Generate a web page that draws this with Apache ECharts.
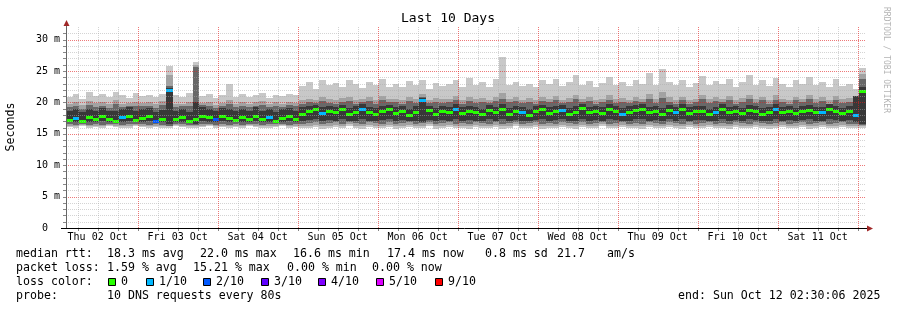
<!DOCTYPE html>
<html>
<head>
<meta charset="utf-8">
<title>Last 10 Days</title>
<script src="https://cdn.jsdelivr.net/npm/echarts@6/dist/echarts.min.js"></script>
<style>
html, body { margin: 0; padding: 0; background: #fff; }
#main { width: 897px; height: 310px; }
</style>
</head>
<body>
<div id="main"></div>
<script>
// x in hours since Thu 02 Oct 00:00, one bin = 2 h
const startHour = 2.5;
const endHour = 242.5;
const stepHours = 2;

const dayLabels = ['Thu 02 Oct', 'Fri 03 Oct', 'Sat 04 Oct', 'Sun 05 Oct', 'Mon 06 Oct',
  'Tue 07 Oct', 'Wed 08 Oct', 'Thu 09 Oct', 'Fri 10 Oct', 'Sat 11 Oct'];
const dayNoon = [12, 36, 60, 84, 108, 132, 156, 180, 204, 228];
const gridHours = [6, 12, 18, 24, 30, 36, 42, 48, 54, 60, 66, 72, 78, 84, 90, 96, 102, 108, 114, 120,
  126, 132, 138, 144, 150, 156, 162, 168, 174, 180, 186, 192, 198, 204, 210, 216, 222, 228, 234, 240];
const gridMs = [1, 2, 3, 4, 5, 6, 7, 8, 9, 10, 11, 12, 13, 14, 15, 16,
  17, 18, 19, 20, 21, 22, 23, 24, 25, 26, 27, 28, 29, 30, 31];

// sorted pings per bin (ms): ping1 lowest ... ping10 highest
const ping1 = [
  16.1, 16.0, 16.2, 15.9, 16.1, 16.0, 16.2, 16.1, 15.9, 16.0, 16.2, 16.1,
  16.0, 16.1, 15.9, 16.0, 16.2, 16.1, 16.0, 15.9, 16.1, 16.2, 16.0, 16.1,
  15.9, 16.1, 16.0, 16.2, 16.1, 15.9, 16.0, 16.1, 16.2, 16.0, 16.1, 16.0,
  15.9, 16.1, 15.8, 16.0, 16.1, 15.9, 16.2, 16.0, 15.8, 16.1, 16.0, 15.9,
  16.1, 15.8, 16.0, 16.1, 15.9, 16.0, 16.2, 15.8, 16.0, 16.1, 15.9, 16.0,
  15.8, 16.1, 16.0, 15.9, 16.1, 15.8, 16.0, 16.2, 15.9, 16.0, 16.1, 15.8,
  16.0, 15.9, 16.1, 16.0, 15.8, 16.1, 15.9, 16.0, 16.2, 15.9, 16.0, 16.1,
  15.9, 16.0, 15.8, 16.1, 16.0, 15.9, 16.1, 16.0, 15.8, 16.1, 15.9, 16.0,
  16.1, 15.9, 16.0, 15.8, 16.1, 16.0, 15.9, 16.1, 16.0, 15.8, 16.0, 16.1,
  15.9, 16.0, 16.1, 15.8, 16.0, 16.1, 15.9, 16.0, 16.1, 15.9, 16.0, 15.9
];
const ping2 = [
  16.3, 16.2, 16.4, 16.2, 16.3, 16.2, 16.4, 16.3, 16.2, 16.3, 16.4, 16.3,
  16.2, 16.3, 16.2, 16.2, 16.4, 16.3, 16.2, 16.2, 16.3, 16.4, 16.2, 16.3,
  16.2, 16.3, 16.2, 16.4, 16.3, 16.2, 16.3, 16.3, 16.4, 16.2, 16.3, 16.3,
  16.3, 16.4, 16.2, 16.3, 16.4, 16.2, 16.5, 16.3, 16.2, 16.4, 16.3, 16.2,
  16.4, 16.2, 16.3, 16.4, 16.2, 16.3, 16.5, 16.2, 16.3, 16.4, 16.2, 16.3,
  16.2, 16.4, 16.3, 16.2, 16.4, 16.2, 16.3, 16.5, 16.2, 16.3, 16.4, 16.2,
  16.3, 16.2, 16.4, 16.3, 16.2, 16.4, 16.2, 16.3, 16.5, 16.2, 16.3, 16.4,
  16.2, 16.3, 16.2, 16.4, 16.3, 16.2, 16.4, 16.3, 16.2, 16.4, 16.2, 16.3,
  16.4, 16.2, 16.3, 16.2, 16.4, 16.3, 16.2, 16.4, 16.3, 16.2, 16.3, 16.4,
  16.2, 16.3, 16.4, 16.2, 16.3, 16.4, 16.2, 16.3, 16.4, 16.2, 16.3, 16.2
];
const ping3 = [
  16.5, 16.4, 16.6, 16.4, 16.5, 16.4, 16.6, 16.5, 16.4, 16.5, 16.6, 16.5,
  16.4, 16.5, 16.4, 16.3, 16.6, 16.5, 16.4, 16.4, 16.5, 16.6, 16.4, 16.5,
  16.4, 16.5, 16.4, 16.6, 16.5, 16.4, 16.5, 16.5, 16.6, 16.4, 16.5, 16.6,
  16.7, 16.8, 16.6, 16.7, 16.8, 16.6, 16.9, 16.7, 16.6, 16.8, 16.7, 16.6,
  16.8, 16.6, 16.7, 16.8, 16.6, 16.7, 16.9, 16.6, 16.7, 16.8, 16.6, 16.7,
  16.6, 16.8, 16.7, 16.6, 16.8, 16.6, 16.7, 16.9, 16.6, 16.7, 16.8, 16.6,
  16.7, 16.6, 16.8, 16.7, 16.6, 16.8, 16.6, 16.7, 16.9, 16.6, 16.7, 16.8,
  16.6, 16.7, 16.6, 16.8, 16.7, 16.6, 16.8, 16.7, 16.6, 16.8, 16.6, 16.7,
  16.8, 16.6, 16.7, 16.6, 16.8, 16.7, 16.6, 16.8, 16.7, 16.6, 16.7, 16.8,
  16.6, 16.7, 16.8, 16.6, 16.7, 16.8, 16.6, 16.7, 16.8, 16.6, 16.6, 16.4
];
const ping4 = [
  16.8, 16.9, 16.7, 16.9, 16.8, 17.0, 16.8, 16.7, 16.9, 17.0, 16.8, 16.9,
  17.0, 16.7, 16.8, 16.5, 16.8, 16.9, 16.7, 16.6, 17.0, 16.9, 16.8, 17.0,
  16.9, 16.8, 16.9, 16.8, 17.0, 16.8, 16.9, 16.7, 16.9, 17.0, 16.8, 17.1,
  17.2, 17.3, 17.1, 17.2, 17.1, 17.3, 17.0, 17.1, 17.4, 17.1, 17.0, 17.2,
  17.3, 17.1, 17.2, 17.0, 17.1, 16.9, 17.2, 17.0, 17.2, 17.1, 17.4, 17.0,
  17.2, 17.1, 17.0, 17.3, 17.1, 17.3, 17.0, 17.2, 17.1, 17.0, 17.2, 17.3,
  17.0, 17.2, 17.3, 17.0, 17.1, 17.4, 17.1, 17.2, 17.0, 17.3, 17.2, 17.0,
  17.1, 17.3, 17.4, 17.1, 17.2, 17.0, 17.3, 17.1, 17.3, 17.0, 17.2, 17.2,
  17.0, 17.1, 17.3, 17.1, 17.2, 17.0, 17.3, 17.2, 17.0, 17.1, 17.3, 17.1,
  17.2, 17.0, 17.2, 17.3, 17.1, 17.1, 17.3, 17.2, 17.0, 17.2, 16.9, 16.6
];
const ping7 = [
  18.6, 18.9, 18.4, 19.0, 18.7, 19.1, 18.6, 18.7, 19.0, 19.3, 18.6, 18.9,
  19.1, 18.5, 18.8, 22.3, 18.7, 19.0, 18.4, 20.0, 19.2, 19.0, 18.7, 19.1,
  18.9, 18.6, 19.0, 18.7, 19.2, 18.7, 19.0, 18.5, 18.9, 19.1, 18.7, 19.3,
  19.5, 19.6, 19.2, 19.5, 19.3, 19.6, 19.1, 19.4, 19.7, 19.3, 19.1, 19.5,
  19.6, 19.2, 19.4, 19.0, 19.4, 20.7, 19.5, 19.1, 19.4, 19.3, 19.7, 19.2,
  19.5, 19.3, 19.0, 19.6, 19.3, 19.7, 19.1, 19.4, 19.3, 19.0, 19.5, 19.6,
  19.2, 19.4, 19.6, 19.1, 19.4, 19.8, 19.3, 19.5, 19.2, 19.7, 19.4, 19.1,
  19.4, 19.6, 19.7, 19.3, 19.4, 19.1, 19.6, 19.3, 19.7, 19.2, 19.4, 19.5,
  19.0, 19.3, 19.7, 19.2, 19.5, 19.1, 19.6, 19.4, 19.1, 19.3, 19.7, 19.2,
  19.5, 19.1, 19.4, 19.6, 19.2, 19.3, 19.7, 19.4, 19.1, 19.5, 21.0, 22.4
];
const ping8 = [
  19.2, 19.5, 19.0, 19.6, 19.3, 19.5, 19.1, 19.7, 19.3, 19.5, 19.5, 19.4,
  19.5, 19.1, 19.6, 22.6, 19.3, 19.4, 19.5, 25.6, 19.6, 19.5, 19.1, 19.5,
  19.7, 19.2, 19.5, 19.3, 19.5, 19.6, 19.3, 19.4, 19.3, 19.6, 19.4, 19.8,
  20.0, 19.9, 20.2, 19.9, 19.8, 20.1, 20.2, 19.8, 20.0, 20.2, 19.8, 20.3,
  20.0, 20.0, 19.8, 20.2, 19.9, 20.8, 19.9, 20.1, 19.9, 20.0, 20.3, 19.8,
  20.2, 19.9, 20.1, 19.9, 20.2, 20.6, 20.0, 20.2, 19.9, 20.1, 19.8, 20.2,
  20.0, 20.3, 19.9, 20.1, 20.5, 20.0, 20.2, 19.8, 20.0, 20.4, 19.9, 20.1,
  19.9, 20.2, 20.0, 20.6, 19.9, 20.7, 20.1, 19.8, 20.3, 19.8, 20.0, 20.5,
  19.9, 20.2, 20.0, 20.4, 19.8, 20.1, 20.5, 19.9, 20.3, 19.8, 20.4, 20.0,
  19.8, 20.3, 20.0, 20.5, 19.9, 20.2, 19.8, 20.4, 19.9, 20.1, 20.6, 23.8
];
const ping9 = [
  19.8, 20.1, 19.6, 20.2, 19.9, 20.0, 19.7, 20.3, 19.8, 19.9, 20.1, 19.9,
  20.0, 19.7, 20.2, 24.4, 19.8, 19.8, 20.1, 26.0, 19.9, 20.0, 19.6, 19.9,
  20.4, 19.7, 20.1, 19.8, 20.0, 20.2, 19.7, 20.0, 19.8, 20.1, 19.9, 20.4,
  20.6, 20.3, 20.8, 20.5, 20.4, 20.7, 20.9, 20.3, 20.5, 20.8, 20.4, 21.0,
  20.5, 20.6, 20.3, 20.9, 20.6, 21.3, 20.4, 20.7, 20.5, 20.6, 21.0, 20.3,
  20.9, 20.5, 20.7, 20.4, 20.8, 21.5, 20.6, 20.9, 20.4, 20.7, 20.3, 20.8,
  20.6, 21.0, 20.4, 20.7, 21.2, 20.5, 20.8, 20.3, 20.6, 21.1, 20.5, 20.7,
  20.4, 20.9, 20.6, 21.3, 20.5, 21.6, 20.8, 20.4, 20.9, 20.3, 20.6, 21.2,
  20.5, 20.8, 20.6, 21.0, 20.3, 20.7, 21.2, 20.5, 20.9, 20.4, 21.1, 20.6,
  20.3, 20.9, 20.6, 21.2, 20.5, 20.8, 20.3, 21.0, 20.5, 20.7, 21.0, 24.5
];
const ping10 = [
  20.9, 21.3, 20.6, 21.7, 21.0, 21.4, 20.8, 21.6, 21.1, 20.7, 21.5, 21.0,
  21.2, 20.8, 21.4, 25.8, 21.1, 20.9, 21.5, 26.4, 21.0, 21.3, 20.7, 21.2,
  23.0, 20.9, 21.4, 20.8, 21.1, 21.5, 20.7, 21.2, 21.0, 21.4, 21.1, 22.6,
  23.3, 22.2, 23.5, 22.8, 23.1, 22.4, 23.6, 22.9, 22.3, 23.2, 22.7, 23.8,
  22.5, 23.0, 22.4, 23.4, 22.8, 23.6, 22.2, 23.1, 22.6, 22.9, 23.5, 22.4,
  23.9, 22.7, 23.2, 22.5, 23.7, 27.3, 22.8, 23.3, 22.6, 23.0, 22.4, 23.5,
  22.9, 23.8, 22.6, 23.2, 24.4, 22.7, 23.4, 22.5, 23.1, 24.0, 22.8, 23.3,
  22.6, 23.5, 23.0, 24.6, 22.7, 25.3, 23.2, 22.8, 23.6, 22.5, 23.1, 24.2,
  22.7, 23.4, 22.9, 23.7, 22.4, 23.2, 24.3, 22.8, 23.5, 22.6, 23.9, 23.0,
  22.5, 23.6, 22.9, 24.1, 22.7, 23.3, 22.4, 23.8, 22.6, 23.0, 22.2, 25.5
];
const median = [
  17.2, 17.5, 17.0, 17.6, 17.4, 17.8, 17.3, 17.1, 17.6, 17.9, 17.2, 17.5,
  17.8, 17.1, 17.4, 22.0, 17.3, 17.7, 17.0, 17.4, 17.9, 17.6, 17.3, 17.8,
  17.5, 17.2, 17.6, 17.4, 17.9, 17.3, 17.6, 17.1, 17.5, 17.8, 17.3, 18.2,
  18.6, 18.9, 18.3, 18.7, 18.4, 18.9, 18.1, 18.5, 19.0, 18.4, 18.2, 18.7,
  18.9, 18.3, 18.6, 18.0, 18.5, 20.4, 18.8, 18.2, 18.6, 18.4, 19.0, 18.3,
  18.7, 18.5, 18.1, 18.8, 18.4, 18.9, 18.2, 18.6, 18.5, 18.0, 18.7, 18.9,
  18.3, 18.6, 18.8, 18.2, 18.5, 19.1, 18.4, 18.7, 18.3, 18.9, 18.6, 18.2,
  18.5, 18.8, 19.0, 18.4, 18.6, 18.2, 18.8, 18.5, 18.9, 18.3, 18.6, 18.7,
  18.1, 18.5, 18.9, 18.4, 18.7, 18.3, 18.8, 18.6, 18.2, 18.5, 18.9, 18.4,
  18.7, 18.3, 18.6, 18.8, 18.4, 18.5, 18.9, 18.6, 18.3, 18.7, 18.0, 21.8
];
// [bin index, lost pings out of 10]
const lossEvents = [[1, 1], [8, 1], [13, 2], [15, 1], [22, 2], [30, 1], [38, 1], [44, 1], [53, 1],
  [58, 1], [68, 1], [74, 1], [83, 1], [91, 1], [97, 1], [106, 1], [113, 1], [118, 1]];

const lossColors = ['#26ff00', '#00b8ff', '#0059ff', '#5e00ff', '#7e00ff', '#dd00ff', '#ff0000'];
const lossLabels = ['0', '1/10', '2/10', '3/10', '4/10', '5/10', '9/10'];
const smokeColors = ['#c8c8c8', '#a2a2a2', '#686868', '#383838'];

const rttStats = ['18.3 ms avg', '22.0 ms max', '16.6 ms min', '17.4 ms now', '0.8 ms sd', '21.7', 'am/s'];
const lossStats = ['1.59 % avg', '15.21 % max', '0.00 % min', '0.00 % now'];

const FONT = '"DejaVu Sans Mono", monospace';
const majorGrid = 'rgba(225,30,30,0.6)';
const minorGrid = 'rgba(170,170,170,0.5)';

const lossByBin = {};
lossEvents.forEach(([i, n]) => { lossByBin[i] = n; });
const rows = median.map((m, i) => [startHour + i * stepHours, ping1[i], ping2[i], ping3[i], ping4[i],
  ping7[i], ping8[i], ping9[i], ping10[i], m, lossByBin[i] || 0]);

function lossColor(n) {
  if (n >= 9) return lossColors[6];
  if (n >= 5) return lossColors[5];
  return lossColors[n];
}

function binX(api, t) {
  return [Math.round(api.coord([t, 0])[0]), Math.round(api.coord([t + stepHours, 0])[0])];
}

function renderSmoke(params, api) {
  const t = api.value(0);
  const [xa, xb] = binX(api, t);
  const children = [];
  for (let k = 0; k < 4; k++) {
    const yLo = Math.round(api.coord([t, api.value(1 + k)])[1]);
    const yHi = Math.round(api.coord([t, api.value(8 - k)])[1]);
    children.push({
      type: 'rect',
      shape: { x: xa, y: yHi, width: xb - xa, height: yLo - yHi },
      style: { fill: smokeColors[k] }
    });
  }
  return { type: 'group', children };
}

function renderMedian(params, api) {
  const t = api.value(0);
  const [xa, xb] = binX(api, t);
  const y = Math.round(api.coord([t, api.value(9)])[1]);
  return {
    type: 'rect',
    shape: { x: xa, y: y - 1, width: xb - xa, height: 3 },
    style: { fill: lossColor(api.value(10)) }
  };
}

function renderVGrid(params, api) {
  const h = api.value(0);
  const x = Math.round(api.coord([h, 0])[0]) + 0.5;
  const y0 = api.coord([h, 0])[1];
  const y1 = api.coord([h, 32])[1];
  return {
    type: 'group',
    children: [
      { type: 'line', shape: { x1: x, y1: y1, x2: x, y2: y0 },
        style: { stroke: h % 24 === 0 ? majorGrid : minorGrid, lineWidth: 1, lineDash: [1, 1] } },
      { type: 'line', shape: { x1: x, y1: y0, x2: x, y2: y0 + 3 }, style: { stroke: '#888', lineWidth: 1 } }
    ]
  };
}

function renderHGrid(params, api) {
  const v = api.value(1);
  const y = Math.round(api.coord([startHour, v])[1]) + 0.5;
  const xa = api.coord([startHour, v])[0];
  const xb = api.coord([endHour, v])[0];
  return {
    type: 'group',
    children: [
      { type: 'line', shape: { x1: xa, y1: y, x2: xb, y2: y },
        style: { stroke: Math.round(v) % 5 === 0 ? majorGrid : minorGrid, lineWidth: 1, lineDash: [1, 1] } },
      { type: 'line', shape: { x1: xa - 3, y1: y, x2: xa, y2: y }, style: { stroke: '#888', lineWidth: 1 } }
    ]
  };
}

function renderDays(params, api) {
  const p = api.coord([api.value(0), 0]);
  return {
    type: 'text',
    x: p[0], y: p[1] + 4,
    style: {
      text: dayLabels[api.value(2)], font: '10px ' + FONT, fill: '#000',
      textAlign: 'center', textVerticalAlign: 'top', align: 'center', verticalAlign: 'top'
    }
  };
}

function txt(x, y, text, extra) {
  return {
    type: 'text', x: x, y: y, silent: true,
    style: Object.assign({ text: text, font: '11.6px ' + FONT, fill: '#000',
      textVerticalAlign: 'middle', verticalAlign: 'middle' }, extra || {})
  };
}

const graphic = [];
graphic.push(txt(448, 19, 'Last 10 Days', { font: '13px ' + FONT, textAlign: 'center', align: 'center' }));
graphic.push(Object.assign(txt(11, 127, 'Seconds', { textAlign: 'center', align: 'center' }), { rotation: Math.PI / 2 }));
graphic.push(Object.assign(txt(886, 60, 'RRDTOOL / TOBI OETIKER',
  { font: '8px ' + FONT, fill: '#b4b4b4', textAlign: 'center', align: 'center' }), { rotation: -Math.PI / 2 }));

// legend block
const rttX = [107, 200, 293, 387, 485, 557, 607];
graphic.push(txt(16, 254, 'median rtt:'));
rttStats.forEach((s, k) => graphic.push(txt(rttX[k], 254, s)));
const lossX = [107, 193, 287, 372];
graphic.push(txt(16, 268, 'packet loss:'));
lossStats.forEach((s, k) => graphic.push(txt(lossX[k], 268, s)));
graphic.push(txt(16, 282, 'loss color:'));
const swatchX = [108, 146, 203, 261, 318, 376, 435];
lossLabels.forEach((s, k) => {
  graphic.push({ type: 'rect', silent: true, shape: { x: swatchX[k] + 0.5, y: 278.5, width: 7, height: 7 },
    style: { fill: lossColors[k], stroke: '#000', lineWidth: 1 } });
  graphic.push(txt(swatchX[k] + 13, 282, s));
});
graphic.push(txt(16, 296, 'probe:'));
graphic.push(txt(107, 296, '10 DNS requests every 80s'));
graphic.push(txt(678, 296, 'end: Sun Oct 12 02:30:06 2025'));

// axis lines and arrows
graphic.push({ type: 'line', silent: true, z: 10, shape: { x1: 66.5, y1: 228, x2: 66.5, y2: 22 }, style: { stroke: '#666', lineWidth: 1 } });
graphic.push({ type: 'polygon', silent: true, z: 10, shape: { points: [[63.5, 26], [69.5, 26], [66.5, 20]] }, style: { fill: '#a02828' } });
graphic.push({ type: 'line', silent: true, z: 10, shape: { x1: 61, y1: 228.5, x2: 868, y2: 228.5 }, style: { stroke: '#000', lineWidth: 1 } });
graphic.push({ type: 'polygon', silent: true, z: 10, shape: { points: [[867, 225.5], [867, 231.5], [873, 228.5]] }, style: { fill: '#a02828' } });

const chart = echarts.init(document.getElementById('main'), null, { renderer: 'canvas' });
chart.setOption({
  animation: false,
  backgroundColor: '#fff',
  grid: { left: 66, right: 31, top: 27, bottom: 82, containLabel: false },
  xAxis: {
    type: 'value', min: startHour, max: endHour,
    axisLine: { show: false }, axisTick: { show: false }, axisLabel: { show: false }, splitLine: { show: false }
  },
  yAxis: {
    type: 'value', min: 0, max: 32, interval: 5,
    axisLine: { show: false }, axisTick: { show: false }, splitLine: { show: false },
    axisLabel: {
      margin: 6, fontFamily: 'DejaVu Sans Mono', fontSize: 10, color: '#000',
      formatter: v => v === 0 ? '0\u00a0\u00a0' : (v % 5 === 0 ? v + ' m' : '')
    }
  },
  series: [
    { type: 'custom', name: 'smoke', z: 1, renderItem: renderSmoke, data: rows, encode: { x: 0, y: [1, 8] } },
    { type: 'custom', name: 'median', z: 2, renderItem: renderMedian, data: rows, encode: { x: 0, y: 9 } },
    { type: 'custom', name: 'hgrid', z: 3, renderItem: renderHGrid, clip: false, data: gridMs.map(v => [startHour, v]) },
    { type: 'custom', name: 'vgrid', z: 3, renderItem: renderVGrid, clip: false, data: gridHours.map(h => [h, 0]) },
    { type: 'custom', name: 'days', z: 4, renderItem: renderDays, clip: false,
      data: dayNoon.map((h, i) => [h, 0, i]) }
  ],
  graphic: graphic
});
</script>
</body>
</html>
